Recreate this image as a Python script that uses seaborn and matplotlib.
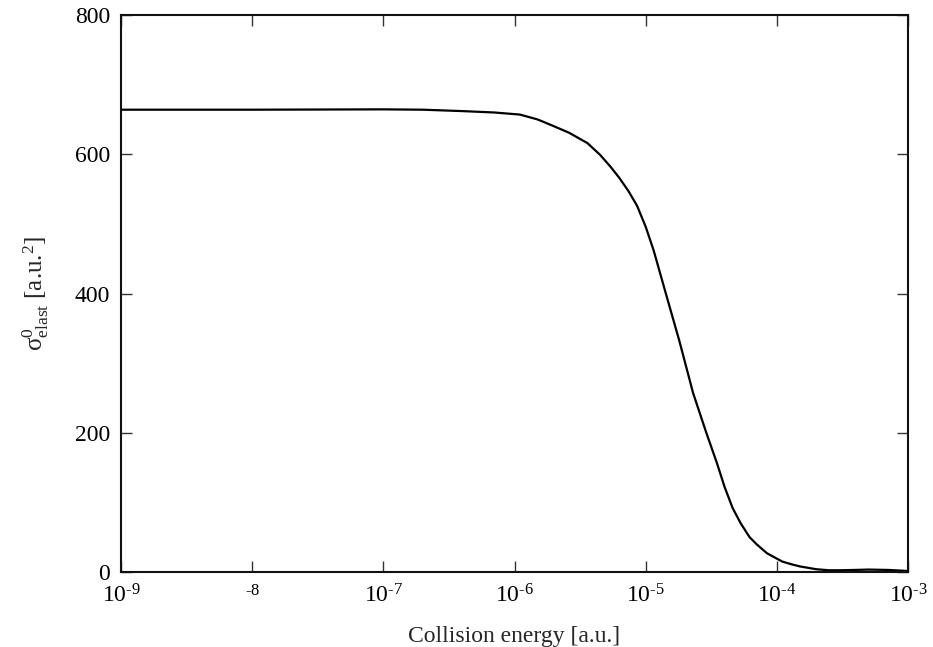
import matplotlib
matplotlib.use("Agg")
import matplotlib.pyplot as plt
import seaborn as sns
import pandas as pd

# values
energy = [1e-9, 1e-8, 1e-7, 2e-7, 4e-7, 7e-7, 1.1e-6, 1.5e-6, 1.9e-6, 2.6e-6, 3.6e-6, 4.5e-6,
          5.4e-6, 6.3e-6, 7.4e-6, 8.6e-6, 1e-5, 1.15e-5, 1.45e-5, 1.8e-5, 2.3e-5, 2.9e-5,
          3.5e-5, 4e-5, 4.6e-5, 5.3e-5, 6.2e-5, 7e-5, 8.4e-5, 1.1e-4, 1.3e-4, 1.5e-4,
          2e-4, 2.5e-4, 3e-4, 4e-4, 5e-4, 7e-4, 1e-3]
sigma = [664, 664, 664.5, 664, 662, 660, 657, 650, 642, 631, 616, 599,
         582, 566, 547, 526, 496, 462, 395, 333, 257, 200,
         156, 122, 92, 70, 50, 40, 27, 15, 11, 8,
         4, 2.5, 2.5, 3, 3.5, 3, 1.5]

xticks = [1e-9, 1e-8, 1e-7, 1e-6, 1e-5, 1e-4, 1e-3]
xticklabels = [r"$10^{\text{-9}}$", r"$^{\text{-8}}$", r"$10^{\text{-7}}$", r"$10^{\text{-6}}$",
               r"$10^{\text{-5}}$", r"$10^{\text{-4}}$", r"$10^{\text{-3}}$"]
yticks = [0, 200, 400, 600, 800]

df = pd.DataFrame({"energy": energy, "sigma": sigma})

sns.set_style("ticks")
plt.rcParams["font.family"] = ["Liberation Serif", "DejaVu Serif"]
plt.rcParams["mathtext.fontset"] = "custom"
plt.rcParams["mathtext.rm"] = "Liberation Serif"
plt.rcParams["mathtext.it"] = "Liberation Serif:italic"

fig = plt.figure(figsize=(9.33, 6.47), dpi=100)
ax = fig.add_axes([0.1297, 0.1159, 0.8435, 0.8609])
sns.lineplot(data=df, x="energy", y="sigma", color="black", linewidth=1.6, ax=ax)
ax.set_xscale("log")
ax.set_xlim(1e-9, 1e-3)
ax.set_ylim(0, 800)
ax.set_xticks(xticks)
ax.set_xticklabels(xticklabels)
ax.set_yticks(yticks)
ax.minorticks_off()
ax.tick_params(direction="in", top=True, right=True, length=8, width=1.0,
               labelsize=17, colors="#333333", labelcolor="black")
ax.tick_params(axis="x", pad=9)
ax.tick_params(axis="y", pad=8)
for s in ax.spines.values():
    s.set_linewidth(1.5)
    s.set_color("#111111")
ax.set_xlabel("Collision energy [a.u.]", fontsize=17, labelpad=13)
ax.set_ylabel(r"$\mathrm{\sigma^{0}_{elast}}$ [a.u.$^{2}$]", fontsize=18, labelpad=17)

fig.savefig("out.png", dpi=100)
